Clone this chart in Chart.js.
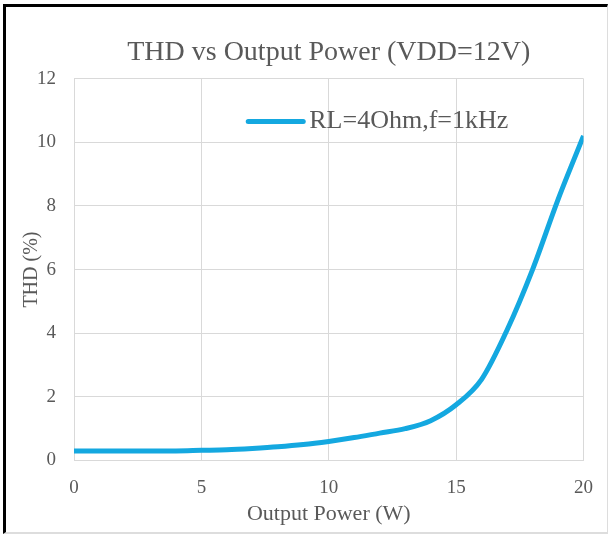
<!DOCTYPE html>
<html>
<head>
<meta charset="utf-8">
<script src="https://cdn.jsdelivr.net/npm/chart.js@4"></script>
<style>
  html, body { margin: 0; padding: 0; background: #fff; }
  #wrap { position: relative; width: 609px; height: 535px; }
  #frame {
    position: absolute; left: 3px; top: 4px; right: 1px; bottom: 1px;
    border-left: 3px solid #000; border-top: 3px solid #000;
    border-right: 1px solid #ddd; border-bottom: 2px solid #ddd;
    pointer-events: none;
  }
</style>
</head>
<body>
<div id="wrap">
  <canvas id="thd-chart" width="609" height="535"></canvas>
  <div id="frame"></div>
</div>
<script>
// DATEN
const power = [0, 1, 2, 3, 4, 5, 6, 7, 8, 9, 10, 11, 12, 13, 14, 15, 16, 17, 18, 19, 20];
const thd = [0.3, 0.3, 0.3, 0.3, 0.3, 0.32, 0.34, 0.38, 0.43, 0.5, 0.6, 0.72, 0.86, 1.0, 1.25, 1.75, 2.55, 4.1, 6.0, 8.2, 10.2];
const seriesName = 'RL=4Ohm,f=1kHz';
const chartTitle = 'THD vs Output Power (VDD=12V)';
const xTitle = 'Output Power (W)';
const yTitle = 'THD (%)';

const grau = '#595959';
const linie = '#14a8e0';

// Legende innerhalb der Zeichenfläche
const innerLegend = {
    id: 'innerLegend',
    afterDraw(chart) {
        const ctx = chart.ctx;
        const area = chart.chartArea;
        const ds = chart.data.datasets[0];
        const x = area.left + (area.right - area.left) * 0.342;
        const y = area.top + 43;
        ctx.save();
        ctx.strokeStyle = ds.borderColor;
        ctx.lineWidth = 5;
        ctx.lineCap = 'round';
        ctx.beginPath();
        ctx.moveTo(x, y);
        ctx.lineTo(x + 55, y);
        ctx.stroke();
        ctx.fillStyle = grau;
        ctx.font = '26px "Liberation Serif"';
        ctx.textBaseline = 'middle';
        ctx.fillText(ds.label, x + 61, y);
        ctx.restore();
    }
};

const canvas = document.getElementById('thd-chart');
new Chart(canvas, {
    type: 'line',
    data: {
        datasets: [{
            label: seriesName,
            data: power.map((p, i) => ({ x: p, y: thd[i] })),
            borderColor: linie,
            borderWidth: 5,
            pointRadius: 0,
            cubicInterpolationMode: 'monotone',
            fill: false
        }]
    },
    options: {
        responsive: false,
        animation: false,
        layout: {
            padding: { left: 10, right: 24, top: 36, bottom: 8 }
        },
        plugins: {
            legend: { display: false },
            tooltip: { enabled: false },
            title: {
                display: true,
                text: chartTitle,
                fullSize: false,
                color: grau,
                font: { family: 'Liberation Serif', size: 28, weight: 'normal' },
                padding: { top: 0, bottom: 9 }
            }
        },
        scales: {
            x: {
                type: 'linear',
                min: 0,
                max: 20,
                ticks: {
                    stepSize: 5,
                    color: grau,
                    padding: 16,
                    font: { family: 'Liberation Serif', size: 19 }
                },
                grid: { color: '#d9d9d9', drawTicks: false },
                border: { color: '#d9d9d9' },
                title: {
                    display: true,
                    text: xTitle,
                    color: grau,
                    padding: { top: 0, bottom: 0 },
                    font: { family: 'Liberation Serif', size: 22 }
                },
                afterFit(scale) { scale.height = 66.5; }
            },
            y: {
                min: 0,
                max: 12,
                ticks: {
                    stepSize: 2,
                    color: grau,
                    padding: 18,
                    font: { family: 'Liberation Serif', size: 19 }
                },
                grid: { color: '#d9d9d9', drawTicks: false },
                border: { color: '#d9d9d9' },
                title: {
                    display: true,
                    text: yTitle,
                    color: grau,
                    padding: { top: 10, bottom: 0 },
                    font: { family: 'Liberation Serif', size: 20 }
                },
                afterFit(scale) { scale.width = 64; }
            }
        }
    },
    plugins: [innerLegend]
});
</script>
</body>
</html>
